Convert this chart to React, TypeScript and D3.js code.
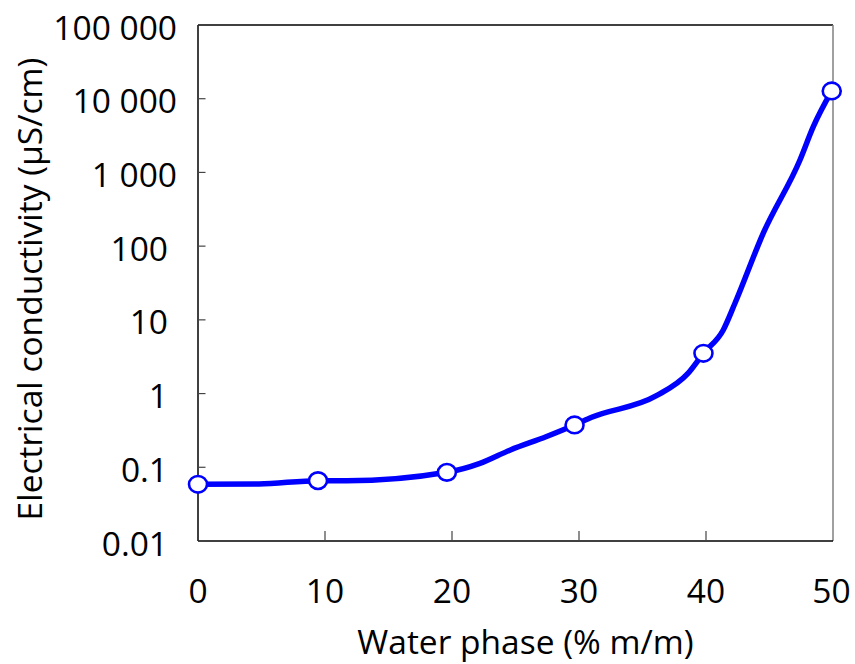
import React from "react";
import * as d3 from "d3";

// Data
const markerX = [0, 9.45, 19.6, 29.65, 39.8, 49.9];
const markerY = [0.0588, 0.0658, 0.0855, 0.375, 3.52, 12740];

const lineX = [0, 4.8, 9.45, 11.7, 19.6, 22.2, 24.6, 27.4, 29.65, 31.0, 36.06, 38.58, 39.8, 41.36, 42.28, 44.51, 47.4, 48.45, 49.9];
const lineY = [0.0588, 0.0595, 0.0658, 0.0655, 0.0855, 0.113, 0.172, 0.26, 0.375, 0.477, 0.927, 1.88, 3.52, 7.3, 16.8, 150, 1476, 4180, 12740];

const xTicks = [0, 10, 20, 30, 40, 50];
const yTicks = [0.01, 0.1, 1, 10, 100, 1000, 10000, 100000];
const yTickLabels = ["0.01", "0.1", "1", "10", "100", "1 000", "10 000", "100 000"];

const xTitle = "Water phase (% m/m)";
const yTitle = "Electrical conductivity (µS/cm)";

const W = 855;
const H = 664;
const left = 198;
const right = 833;
const top = 25;
const bottom = 541;
const FONT = "'Open Sans', 'DejaVu Sans', sans-serif";
const FS = 33.5;

export default function App() {
  const x = d3.scaleLinear().domain([0, 50]).range([left, right]);
  const y = d3.scaleLog().domain([0.01, 100000]).range([bottom, top]);

  const pts: [number, number][] = lineX.map((v, i) => [v, lineY[i]]);
  const line = d3
    .line<[number, number]>()
    .x((d) => x(d[0]))
    .y((d) => y(d[1]))
    .curve(d3.curveMonotoneX);

  return (
    <svg
      width={W}
      height={H}
      style={{ position: "absolute", left: 0, top: 0, background: "#fff" }}
    >
      <rect x={0} y={0} width={W} height={H} fill="#fff" />
      {/* frame */}
      <line x1={left} y1={top} x2={right} y2={top} stroke="#000" strokeWidth={1.5} />
      <line x1={right} y1={top} x2={right} y2={bottom} stroke="#808080" strokeWidth={1.5} />
      <line x1={left} y1={top} x2={left} y2={bottom} stroke="#000" strokeWidth={1.5} />
      <line x1={left} y1={bottom} x2={right} y2={bottom} stroke="#000" strokeWidth={1.5} />

      {/* y ticks */}
      {yTicks.map((t, i) => (
        <g key={"yt" + i}>
          <line x1={left} x2={left + 7.5} y1={y(t)} y2={y(t)} stroke="#444" strokeWidth={1.2} />
          <text
            x={t >= 1000 ? 177 : 168}
            y={y(t) + 14.5}
            textAnchor="end"
            fontFamily={FONT}
            fontSize={FS}
            fill="#000"
          >
            {yTickLabels[i]}
          </text>
        </g>
      ))}

      {/* x ticks */}
      {xTicks.map((t, i) => (
        <g key={"xt" + i}>
          {t > 0 && t < 50 && (
            <line x1={x(t)} x2={x(t)} y1={bottom} y2={bottom - 10} stroke="#444" strokeWidth={1.2} />
          )}
          <text
            x={x(t) - (t === 50 ? 1.5 : 0)}
            y={603}
            textAnchor="middle"
            fontFamily={FONT}
            fontSize={FS}
            fill="#000"
          >
            {t}
          </text>
        </g>
      ))}

      {/* line */}
      <path d={line(pts) || ""} fill="none" stroke="#0000FF" strokeWidth={5.5} strokeLinejoin="round" />

      {/* markers */}
      {markerX.map((v, i) => (
        <ellipse
          key={"m" + i}
          cx={x(v)}
          cy={y(markerY[i])}
          rx={9}
          ry={8.3}
          fill="#fff"
          stroke="#0000FF"
          strokeWidth={2.6}
        />
      ))}

      {/* titles */}
      <text
        x={525.5}
        y={654}
        textAnchor="middle"
        fontFamily={FONT}
        fontSize={FS}
        fill="#000"
      >
        {xTitle}
      </text>
      <text
        transform={`translate(42, 289) rotate(-90)`}
        textAnchor="middle"
        fontFamily={FONT}
        fontSize={FS}
        fill="#000"
      >
        {yTitle}
      </text>
    </svg>
  );
}
